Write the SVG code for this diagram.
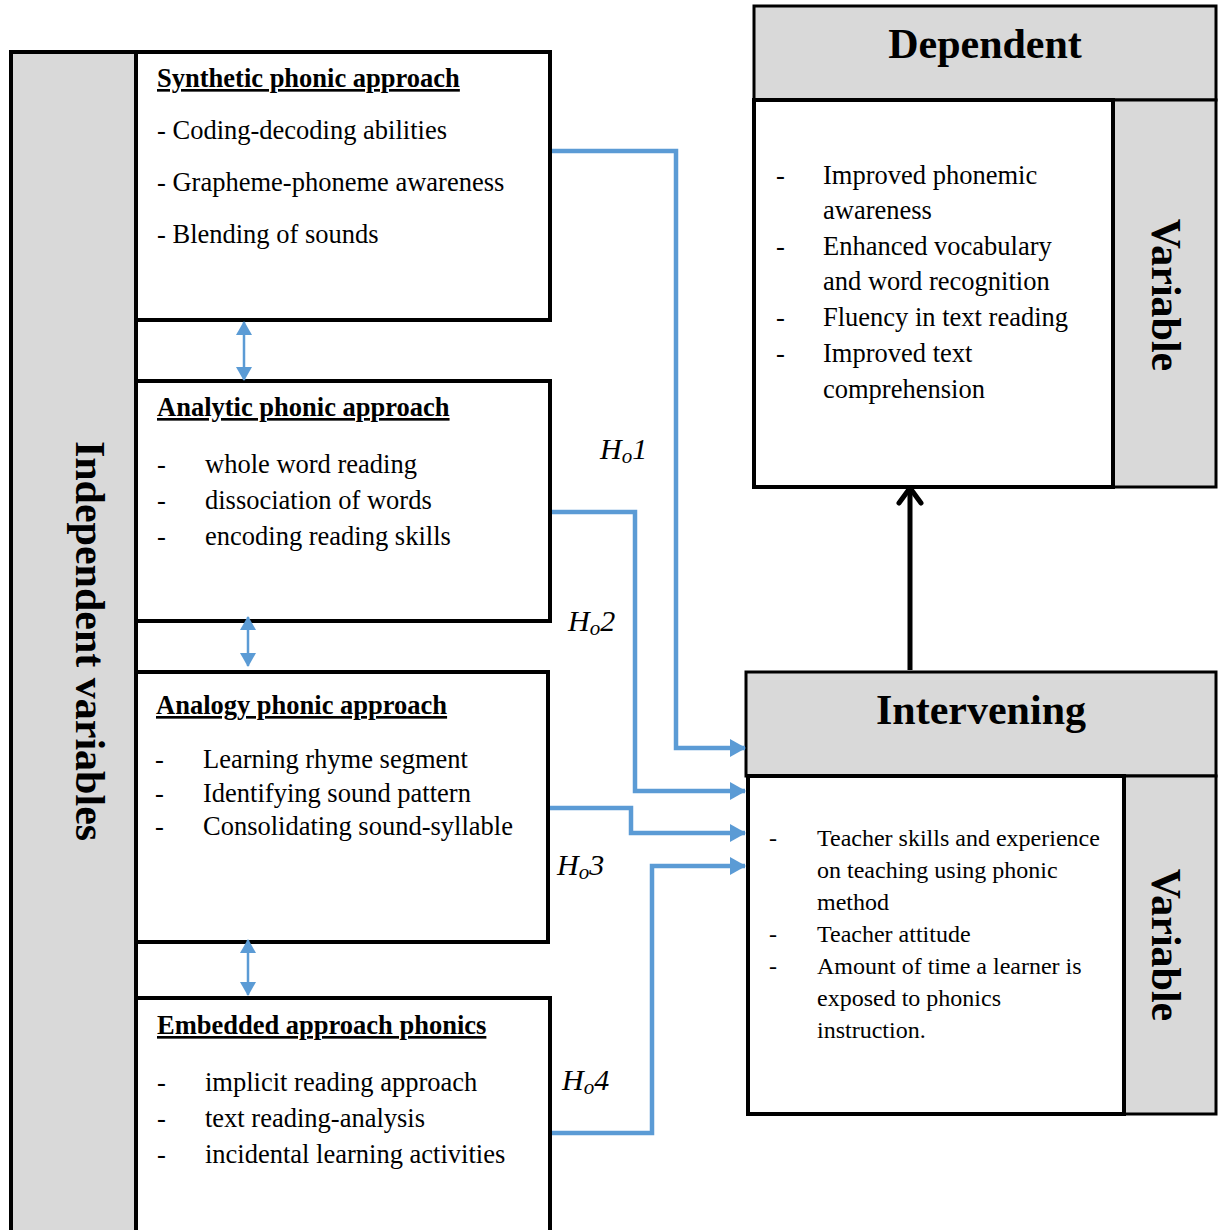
<svg xmlns="http://www.w3.org/2000/svg" width="1219" height="1230" viewBox="0 0 1219 1230">
<style>
text{font-family:"Liberation Serif","Times New Roman",serif;fill:#000}
.t{font-size:26.5px}
.ti{font-size:26.5px;font-weight:bold;text-decoration:underline}
.s{font-size:24px}
.big{font-size:42px;font-weight:bold}
.h{font-size:30px;font-style:italic}
.box{fill:#fff;stroke:#000;stroke-width:4}
.grey{fill:#d9d9d9;stroke:#000;stroke-width:4}
.greyt{fill:#d9d9d9;stroke:#000;stroke-width:3}
.blue{fill:none;stroke:#5b9bd5;stroke-width:4.5}
.dbl{fill:none;stroke:#5b9bd5;stroke-width:2.5}
</style>
<defs>
<marker id="ab" markerUnits="userSpaceOnUse" markerWidth="16" markerHeight="18" refX="15" refY="9" orient="auto"><path d="M0,0 L16,9 L0,18 Z" fill="#5b9bd5"/></marker>
<marker id="as" markerUnits="userSpaceOnUse" markerWidth="14" markerHeight="16" refX="13" refY="8" orient="auto-start-reverse"><path d="M0,0 L14,8 L0,16 Z" fill="#5b9bd5"/></marker>
</defs>
<rect width="1219" height="1230" fill="#fff"/>

<g id="independent">
<rect class="grey" x="11" y="52" width="125" height="1200"/>
<text class="big" transform="translate(76,641) rotate(90)" text-anchor="middle">Independent variables</text>
</g>

<g id="synthetic">
<rect class="box" x="136" y="52" width="414" height="268"/>
<text class="ti" x="157" y="87">Synthetic phonic approach</text>
<text class="t" x="157" y="139">- Coding-decoding abilities</text>
<text class="t" x="157" y="191">- Grapheme-phoneme awareness</text>
<text class="t" x="157" y="243">- Blending of sounds</text>
</g>

<g id="analytic">
<rect class="box" x="136" y="381" width="414" height="240"/>
<text class="ti" x="157" y="416">Analytic phonic approach</text>
<text class="t" x="157" y="473">-</text><text class="t" x="205" y="473">whole word reading</text>
<text class="t" x="157" y="509">-</text><text class="t" x="205" y="509">dissociation of words</text>
<text class="t" x="157" y="545">-</text><text class="t" x="205" y="545">encoding reading skills</text>
</g>

<g id="analogy">
<rect class="box" x="136" y="672" width="412" height="270"/>
<text class="ti" x="156" y="714">Analogy phonic approach</text>
<text class="t" x="155" y="768">-</text><text class="t" x="203" y="768">Learning rhyme segment</text>
<text class="t" x="155" y="802">-</text><text class="t" x="203" y="802">Identifying sound pattern</text>
<text class="t" x="155" y="835">-</text><text class="t" x="203" y="835">Consolidating sound-syllable</text>
</g>

<g id="embedded">
<rect class="box" x="136" y="998" width="414" height="250"/>
<text class="ti" x="157" y="1034">Embedded approach phonics</text>
<text class="t" x="157" y="1091">-</text><text class="t" x="205" y="1091">implicit reading approach</text>
<text class="t" x="157" y="1127">-</text><text class="t" x="205" y="1127">text reading-analysis</text>
<text class="t" x="157" y="1163">-</text><text class="t" x="205" y="1163">incidental learning activities</text>
</g>

<g id="dependent">
<rect class="greyt" x="754" y="6" width="462" height="94"/>
<rect class="greyt" x="1113" y="100" width="103" height="387"/>
<rect class="box" x="754" y="100" width="359" height="387"/>
<text class="big" x="985" y="58" text-anchor="middle">Dependent</text>
<text class="big" transform="translate(1152,295) rotate(90)" text-anchor="middle">Variable</text>
<text class="t" x="776" y="184">-</text><text class="t" x="823" y="184">Improved phonemic</text>
<text class="t" x="823" y="219">awareness</text>
<text class="t" x="776" y="255">-</text><text class="t" x="823" y="255">Enhanced vocabulary</text>
<text class="t" x="823" y="290">and word recognition</text>
<text class="t" x="776" y="326">-</text><text class="t" x="823" y="326">Fluency in text reading</text>
<text class="t" x="776" y="362">-</text><text class="t" x="823" y="362">Improved text</text>
<text class="t" x="823" y="398">comprehension</text>
</g>

<g id="intervening">
<rect class="greyt" x="746" y="672" width="470" height="104"/>
<rect class="greyt" x="1124" y="776" width="92" height="338"/>
<rect class="box" x="748" y="776" width="376" height="338"/>
<text class="big" x="981" y="724" text-anchor="middle">Intervening</text>
<text class="big" transform="translate(1152,945) rotate(90)" text-anchor="middle">Variable</text>
<text class="s" x="769" y="846">-</text><text class="s" x="817" y="846">Teacher skills and experience</text>
<text class="s" x="817" y="878">on teaching using phonic</text>
<text class="s" x="817" y="910">method</text>
<text class="s" x="769" y="942">-</text><text class="s" x="817" y="942">Teacher attitude</text>
<text class="s" x="769" y="974">-</text><text class="s" x="817" y="974">Amount of time a learner is</text>
<text class="s" x="817" y="1006">exposed to phonics</text>
<text class="s" x="817" y="1038">instruction.</text>
</g>

<g id="connectors">
<polyline class="blue" points="552,151 676,151 676,748 745,748" marker-end="url(#ab)"/>
<polyline class="blue" points="552,512 635,512 635,791 745,791" marker-end="url(#ab)"/>
<polyline class="blue" points="550,808 631,808 631,833 745,833" marker-end="url(#ab)"/>
<polyline class="blue" points="552,1133 652,1133 652,866 745,866" marker-end="url(#ab)"/>
<line class="dbl" x1="244" y1="322" x2="244" y2="380" marker-start="url(#as)" marker-end="url(#as)"/>
<line class="dbl" x1="248" y1="617" x2="248" y2="666" marker-start="url(#as)" marker-end="url(#as)"/>
<line class="dbl" x1="248" y1="940" x2="248" y2="995" marker-start="url(#as)" marker-end="url(#as)"/>
<line x1="910" y1="670" x2="910" y2="490" stroke="#000" stroke-width="5"/>
<polyline points="899,503 910,488 921,503" fill="none" stroke="#000" stroke-width="5" stroke-linecap="round" stroke-linejoin="round"/>
<text class="h" x="600" y="459">H<tspan font-size="21" dy="4">o</tspan><tspan dy="-4">1</tspan></text>
<text class="h" x="568" y="631">H<tspan font-size="21" dy="4">o</tspan><tspan dy="-4">2</tspan></text>
<text class="h" x="557" y="875">H<tspan font-size="21" dy="4">o</tspan><tspan dy="-4">3</tspan></text>
<text class="h" x="562" y="1090">H<tspan font-size="21" dy="4">o</tspan><tspan dy="-4">4</tspan></text>
</g>
</svg>
